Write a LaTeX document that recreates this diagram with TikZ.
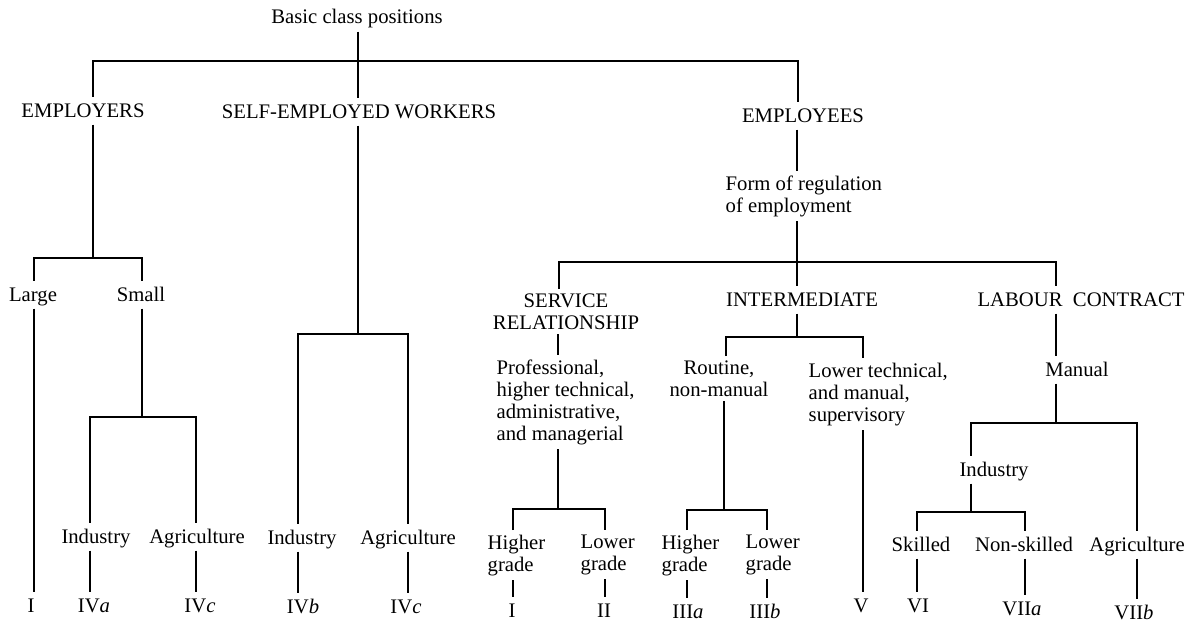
\documentclass[tikz,border=0pt]{standalone}
\usepackage{fontspec}
\setmainfont{Liberation Serif}
\usepackage{tikz}

\begin{document}
\begin{tikzpicture}[x=1pt, y=-1pt, line width=1.4pt,
        every node/.style={font=\fontsize{20.7}{22}\selectfont, inner xsep=2pt},
        lbl/.style={anchor=base, inner ysep=3pt, text height=16.5pt, text depth=4pt},
        blk/.style={inner ysep=4pt} ]
        \useasboundingbox (0,0) rectangle (1196,626);
        \node[lbl] (basic) at (357,24) {Basic class positions};
        \node[lbl] (emps) at (83,117) {EMPLOYERS};
        \node[lbl] (self) at (359,118) {SELF-EMPLOYED WORKERS};
        \node[lbl] (empl) at (803,122) {EMPLOYEES};
        \node[blk, align=left, anchor=north west] (form) at (723,171) {Form of regulation\\of employment};
        \node[lbl] (large) at (33,301) {Large};
        \node[lbl] (small) at (141,301) {Small};
        \node[lbl] (ind1) at (96,543) {Industry};
        \node[lbl] (agr1) at (197,543) {Agriculture};
        \node[lbl] (ind2) at (302,544) {Industry};
        \node[lbl] (agr2) at (408,544) {Agriculture};
        \node[blk, align=center, anchor=north] (serv) at (566,289) {SERVICE\\RELATIONSHIP};
        \node[lbl] (inter) at (802,306) {INTERMEDIATE};
        \node[lbl] (labour) at (1081,306) {LABOUR\ \ CONTRACT};
        \node[blk, align=left, anchor=north west] (prof) at (494,355) {Professional,\\higher technical,\\administrative,\\and managerial};
        \node[blk, align=center, anchor=north] (rout) at (719,356) {Routine,\\non-manual};
        \node[blk, align=left, anchor=north west] (lowt) at (806,358) {Lower technical,\\and manual,\\supervisory};
        \node[lbl] (man) at (1077,376) {Manual};
        \node[lbl] (ind3) at (994,476) {Industry};
        \node[blk, align=left, anchor=north west] (hg1) at (485,530) {Higher\\grade};
        \node[blk, align=left, anchor=north west] (lg1) at (578,530) {Lower\\grade};
        \node[blk, align=left, anchor=north west] (hg2) at (659,530) {Higher\\grade};
        \node[blk, align=left, anchor=north west] (lg2) at (743,530) {Lower\\grade};
        \node[lbl] (skl) at (921,551) {Skilled};
        \node[lbl] (nskl) at (1024,551) {Non-skilled};
        \node[lbl] (agr3) at (1137,551) {Agriculture};
        \node[lbl] (cI) at (31,612) {I};
        \node[lbl] (cIVa) at (94,612) {IV\textit{a}};
        \node[lbl] (cIVc) at (200,612) {IV\textit{c}};
        \node[lbl] (cIVb) at (303,613) {IV\textit{b}};
        \node[lbl] (cIVcc) at (406,613) {IV\textit{c}};
        \node[lbl] (cIs) at (512,617) {I};
        \node[lbl] (cII) at (604,617) {II};
        \node[lbl] (cIIIa) at (688,618) {III\textit{a}};
        \node[lbl] (cIIIb) at (765,618) {III\textit{b}};
        \node[lbl] (cV) at (861,612) {V};
        \node[lbl] (cVI) at (918,612) {VI};
        \node[lbl] (cVIIa) at (1022,615) {VII\textit{a}};
        \node[lbl] (cVIIb) at (1134,619) {VII\textit{b}};
        \coordinate (t0) at (358,61);
        \coordinate (t1) at (93,61);
        \coordinate (t2) at (798,61);
        \coordinate (e0) at (93,258);
        \coordinate (e1) at (34,258);
        \coordinate (e2) at (142,258);
        \coordinate (s0) at (142,417);
        \coordinate (s1) at (90,417);
        \coordinate (s2) at (196,417);
        \coordinate (w0) at (358,334);
        \coordinate (w1) at (298,334);
        \coordinate (w2) at (408,334);
        \coordinate (f0) at (797,262);
        \coordinate (f1) at (559,262);
        \coordinate (f2) at (1056,262);
        \coordinate (p0) at (558,509);
        \coordinate (p1) at (513,509);
        \coordinate (p2) at (605,509);
        \coordinate (i0) at (797,337);
        \coordinate (i1) at (726,337);
        \coordinate (i2) at (863,337);
        \coordinate (r0) at (724,510);
        \coordinate (r1) at (687,510);
        \coordinate (r2) at (767,510);
        \coordinate (m0) at (1056,423);
        \coordinate (m1) at (971,423);
        \coordinate (m2) at (1137,423);
        \coordinate (n0) at (971,512);
        \coordinate (n1) at (917,512);
        \coordinate (n2) at (1025,512);
        \draw (basic.south -| t0) -- (t0 |- self.north);
        \draw (t1 |- emps.north) -- (t1) -- (t2) -- (t2 |- empl.north);
        \draw (emps.south -| e0) -- (e0);
        \draw (e1 |- large.north) -- (e1) -- (e2) -- (e2 |- small.north);
        \draw (large.south -| e1) -- (e1 |- cI.north);
        \draw (small.south -| s0) -- (s0);
        \draw (s1 |- ind1.north) -- (s1) -- (s2) -- (s2 |- agr1.north);
        \draw (ind1.south -| s1) -- (s1 |- cIVa.north);
        \draw (agr1.south -| s2) -- (s2 |- cIVc.north);
        \draw (self.south -| w0) -- (w0);
        \draw (w1 |- ind2.north) -- (w1) -- (w2) -- (w2 |- agr2.north);
        \draw (ind2.south -| w1) -- (w1 |- cIVb.north);
        \draw (agr2.south -| w2) -- (w2 |- cIVcc.north);
        \draw (empl.south -| f0) -- (f0 |- form.north);
        \draw (form.south -| f0) -- (f0) -- (f0 |- inter.north);
        \draw (f1 |- serv.north) -- (f1) -- (f2) -- (f2 |- labour.north);
        \draw (serv.south -| p0) -- (p0 |- prof.north);
        \draw (prof.south -| p0) -- (p0);
        \draw (p1 |- hg1.north) -- (p1) -- (p2) -- (p2 |- lg1.north);
        \draw (hg1.south -| p1) -- (p1 |- cIs.north);
        \draw (lg1.south -| p2) -- (p2 |- cII.north);
        \draw (inter.south -| i0) -- (i0);
        \draw (i1 |- rout.north) -- (i1) -- (i2) -- (i2 |- lowt.north);
        \draw (rout.south -| r0) -- (r0);
        \draw (r1 |- hg2.north) -- (r1) -- (r2) -- (r2 |- lg2.north);
        \draw (hg2.south -| r1) -- (r1 |- cIIIa.north);
        \draw (lg2.south -| r2) -- (r2 |- cIIIb.north);
        \draw (lowt.south -| i2) -- (i2 |- cV.north);
        \draw (labour.south -| m0) -- (m0 |- man.north);
        \draw (man.south -| m0) -- (m0);
        \draw (m1 |- ind3.north) -- (m1) -- (m2) -- (m2 |- agr3.north);
        \draw (ind3.south -| n0) -- (n0);
        \draw (n1 |- skl.north) -- (n1) -- (n2) -- (n2 |- nskl.north);
        \draw (skl.south -| n1) -- (n1 |- cVI.north);
        \draw (nskl.south -| n2) -- (n2 |- cVIIa.north);
        \draw (agr3.south -| m2) -- (m2 |- cVIIb.north);
    \end{tikzpicture}
\end{document}
